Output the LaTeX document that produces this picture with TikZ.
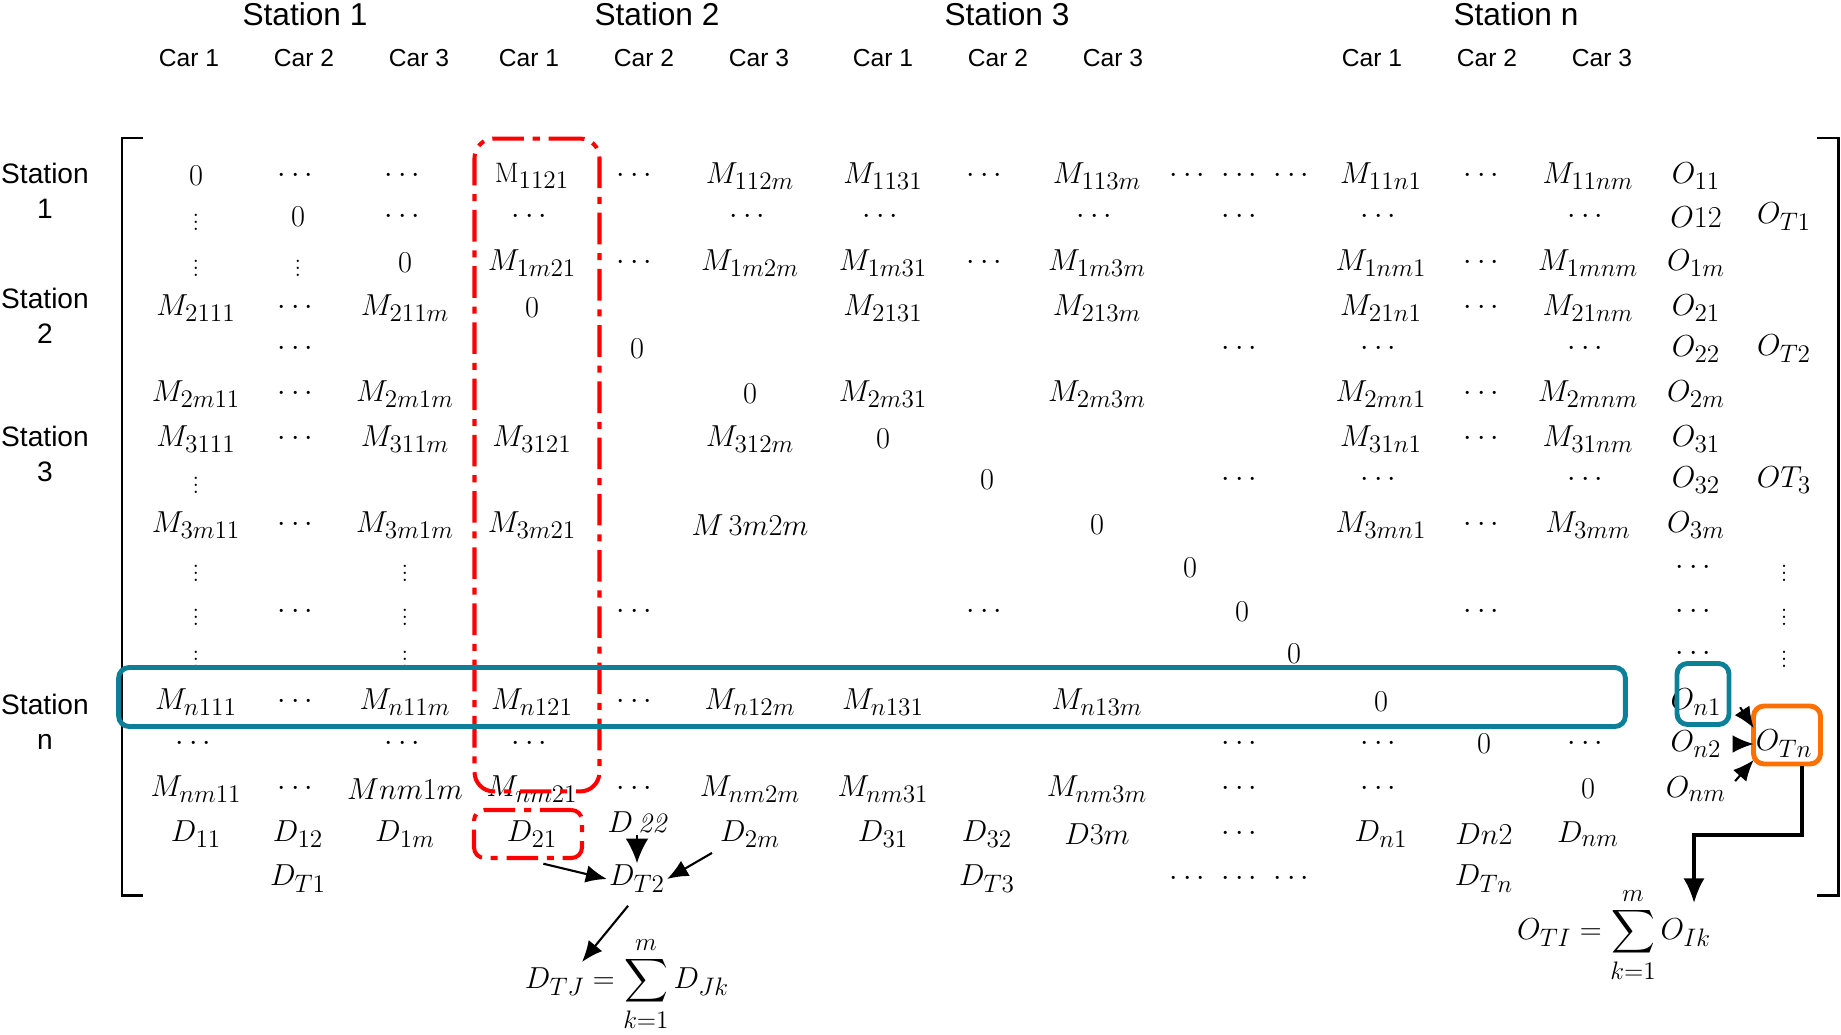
\documentclass[tikz,border=0pt]{standalone}
\usepackage{amsmath}
\usepackage{fontspec}
\setsansfont{Liberation Sans}
\DeclareMathSizes{16}{16}{13.5}{10}
\usetikzlibrary{arrows.meta,positioning,calc}
\definecolor{boxteal}{RGB}{12,128,152}
\definecolor{boxorange}{RGB}{255,112,0}
\tikzset{
  stationhead/.style = {font=\sffamily\fontsize{18}{21}\selectfont, inner sep=1pt},
  carhead/.style     = {font=\sffamily\fontsize{14}{17}\selectfont, inner sep=1pt},
  rowhead/.style     = {font=\sffamily\fontsize{16}{20}\selectfont, align=center, inner sep=1pt},
  cell/.style        = {font=\fontsize{16}{19}\selectfont, inner sep=1pt},
  redbox/.style      = {draw=red, line width=2.3pt, dash pattern=on 18pt off 5pt on 4pt off 5pt, inner sep=0pt},
  tealbox/.style     = {draw=boxteal, line width=2.8pt, rounded corners=6pt, inner sep=0pt},
  orangebox/.style   = {draw=boxorange, line width=2.8pt, rounded corners=6pt, inner sep=0pt},
  bracket/.style     = {line width=1.7pt},
  sumarrow/.style    = {->, line width=1.2pt}
}

\begin{document}
\begin{tikzpicture}[x=0.02cm, y=-0.02cm, >={Latex[length=12pt,width=10pt]}]
\useasboundingbox (0,0) rectangle (1841,1034);

% column and row positions of the matrix
\foreach \i/\x in {1/196,2/298,3/405,4/532,5/637,6/750,7/883,8/987,9/1097,
                   10/1190,11/1242,12/1294,13/1381,14/1484,15/1588,16/1696,17/1784}
  \coordinate (c\i) at (\x,0);
\foreach \i/\y in {1/176,2/217,3/263,4/308,5/349,6/394,7/439,8/480,9/525,
                   10/568,11/612,12/654,13/702,14/744,15/789,16/834,17/879}
  \coordinate (r\i) at (0,\y);

% headers
\foreach \s/\x in {1/305,2/657,3/1007,n/1516}
  \node[stationhead] (st\s) at (\x,14) {Station \s};
\foreach \s/\xa in {1/189,2/529,3/883,n/1372}
  \foreach \k in {1,2,3}
    \node[carhead] (car\s-\k) at ({\xa+(\k-1)*115},58) {Car \k};
\foreach \s/\y in {1/191,2/316,3/454,n/722}
  \node[rowhead] (row\s) at (45,\y) {Station\\\s};

% brackets
\draw[bracket] (143,138) -- (122,138) -- (122,895) -- (143,895);
\draw[bracket] (1817,138) -- (1838,138) -- (1838,895) -- (1817,895);

% matrix entries, one row at a time
\foreach \c/\txt in {1/0,2/\cdots,3/\cdots,4/{\mathrm{M}_{1121}},5/\cdots,6/{M_{112m}},7/{M_{1131}},8/\cdots,
                     9/{M_{113m}},10/\cdots,11/\cdots,12/\cdots,13/{M_{11n1}},14/\cdots,15/{M_{11nm}},16/{O_{11}}}
  \node[cell] (m1-\c) at (c\c |- r1) {$\txt$};
\foreach \c/\txt in {1/\vdots,2/0,3/\cdots,4/\cdots,6/\cdots,7/\cdots,9/\cdots,11/\cdots,13/\cdots,15/\cdots,
                     16/{O12},17/{O_{T1}}}
  \node[cell] (m2-\c) at (c\c |- r2) {$\txt$};
\foreach \c/\txt in {1/\vdots,2/\vdots,3/0,4/{M_{1m21}},5/\cdots,6/{M_{1m2m}},7/{M_{1m31}},8/\cdots,
                     9/{M_{1m3m}},13/{M_{1nm1}},14/\cdots,15/{M_{1mnm}},16/{O_{1m}}}
  \node[cell] (m3-\c) at (c\c |- r3) {$\txt$};
\foreach \c/\txt in {1/{M_{2111}},2/\cdots,3/{M_{211m}},4/0,7/{M_{2131}},9/{M_{213m}},13/{M_{21n1}},
                     14/\cdots,15/{M_{21nm}},16/{O_{21}}}
  \node[cell] (m4-\c) at (c\c |- r4) {$\txt$};
\foreach \c/\txt in {2/\cdots,5/0,11/\cdots,13/\cdots,15/\cdots,16/{O_{22}},17/{O_{T2}}}
  \node[cell] (m5-\c) at (c\c |- r5) {$\txt$};
\foreach \c/\txt in {1/{M_{2m11}},2/\cdots,3/{M_{2m1m}},6/0,7/{M_{2m31}},9/{M_{2m3m}},13/{M_{2mn1}},
                     14/\cdots,15/{M_{2mnm}},16/{O_{2m}}}
  \node[cell] (m6-\c) at (c\c |- r6) {$\txt$};
\foreach \c/\txt in {1/{M_{3111}},2/\cdots,3/{M_{311m}},4/{M_{3121}},6/{M_{312m}},7/0,13/{M_{31n1}},
                     14/\cdots,15/{M_{31nm}},16/{O_{31}}}
  \node[cell] (m7-\c) at (c\c |- r7) {$\txt$};
\foreach \c/\txt in {1/\vdots,8/0,11/\cdots,13/\cdots,15/\cdots,16/{O_{32}},17/{OT_3}}
  \node[cell] (m8-\c) at (c\c |- r8) {$\txt$};
\foreach \c/\txt in {1/{M_{3m11}},2/\cdots,3/{M_{3m1m}},4/{M_{3m21}},6/{M\,3m2m},9/0,13/{M_{3mn1}},
                     14/\cdots,15/{M_{3mm}},16/{O_{3m}}}
  \node[cell] (m9-\c) at (c\c |- r9) {$\txt$};
\foreach \c/\txt in {1/\vdots,3/\vdots,10/0,16/\cdots,17/\vdots}
  \node[cell] (m10-\c) at (c\c |- r10) {$\txt$};
\foreach \c/\txt in {1/\vdots,2/\cdots,3/\vdots,5/\cdots,8/\cdots,11/0,14/\cdots,16/\cdots,17/\vdots}
  \node[cell] (m11-\c) at (c\c |- r11) {$\txt$};
\foreach \c/\txt in {1/\vdots,3/\vdots,12/0,16/\cdots,17/\vdots}
  \node[cell] (m12-\c) at (c\c |- r12) {$\txt$};
\foreach \c/\txt in {1/{M_{n111}},2/\cdots,3/{M_{n11m}},4/{M_{n121}},5/\cdots,6/{M_{n12m}},7/{M_{n131}},
                     9/{M_{n13m}},13/0,16/{O_{n1}}}
  \node[cell] (m13-\c) at (c\c |- r13) {$\txt$};
\foreach \c/\txt in {1/\cdots,3/\cdots,4/\cdots,11/\cdots,13/\cdots,14/0,15/\cdots,16/{O_{n2}},17/{O_{Tn}}}
  \node[cell] (m14-\c) at (c\c |- r14) {$\txt$};
\foreach \c/\txt in {1/{M_{nm11}},2/\cdots,3/{Mnm1m},4/{M_{nm21}},5/\cdots,6/{M_{nm2m}},7/{M_{nm31}},
                     9/{M_{nm3m}},11/\cdots,13/\cdots,15/0,16/{O_{nm}}}
  \node[cell] (m15-\c) at (c\c |- r15) {$\txt$};
\foreach \c/\txt in {1/{D_{11}},2/{D_{12}},3/{D_{1m}},4/{D_{21}},6/{D_{2m}},7/{D_{31}},
                     8/{D_{32}},9/{D3m},11/\cdots,13/{D_{n1}},14/{Dn2},15/{D_{nm}}}
  \node[cell] (m16-\c) at (c\c |- r16) {$\txt$};
\node[cell] (m16-5) at (637,822) {$D\,\mathit{22}$};
\foreach \c/\txt in {2/{D_{T1}},5/{D_{T2}},8/{D_{T3}},10/\cdots,11/\cdots,12/\cdots,14/{D_{Tn}}}
  \node[cell] (m17-\c) at (c\c |- r17) {$\txt$};

% sums
\node[cell] (dtj) at (627,984) {$\displaystyle D_{TJ}=\sum_{k=1}^{m}D_{Jk}$};
\node[cell] (oti) at (1614,935) {$\displaystyle O_{TI}=\sum_{k=1}^{m}O_{Ik}$};

% highlight boxes
\node[redbox, rounded corners=11pt, minimum width=2.5cm, minimum height=13.06cm] (colbox) at (537,465) {};
\node[redbox, rounded corners=6pt, minimum width=2.16cm, minimum height=0.96cm] (d21box) at (528,834) {};
\node[tealbox, minimum width=30.14cm, minimum height=1.18cm] (rowbox) at (872,697) {};
\node[tealbox, minimum width=1.04cm, minimum height=1.22cm] (on1box) at (1703,694) {};
\node[orangebox, minimum width=1.34cm, minimum height=1.16cm] (tnbox) at (1787,735) {};

% arrows to the totals
\coordinate (dtjtip) at (582,962);
\coordinate (otibend) at (1802,835);
\coordinate (otitip) at (1694,903);
\draw[sumarrow, shorten <=9pt] (d21box.south) -- (m17-5.west);
\draw[sumarrow, -{Latex[length=14pt,width=13pt]}] (m16-5.south) -- (m17-5.north);
\draw[sumarrow, shorten <=4pt] (m16-6.south west) -- (m17-5.east);
\draw[sumarrow, shorten <=8pt] (m17-5.south) -- (dtjtip);
\draw[sumarrow, shorten <=9pt] (on1box.east) -- (m14-17.north west);
\draw[sumarrow, shorten <=6pt] (m14-16.east) -- (m14-17.west);
\draw[sumarrow, shorten <=6pt] (m15-16.east) -- (m14-17.south west);
\draw[line width=1.8pt, -{Latex[length=14pt,width=12pt]}] (otibend |- tnbox.south) -- (otibend) -| (otitip);
\end{tikzpicture}
\end{document}
